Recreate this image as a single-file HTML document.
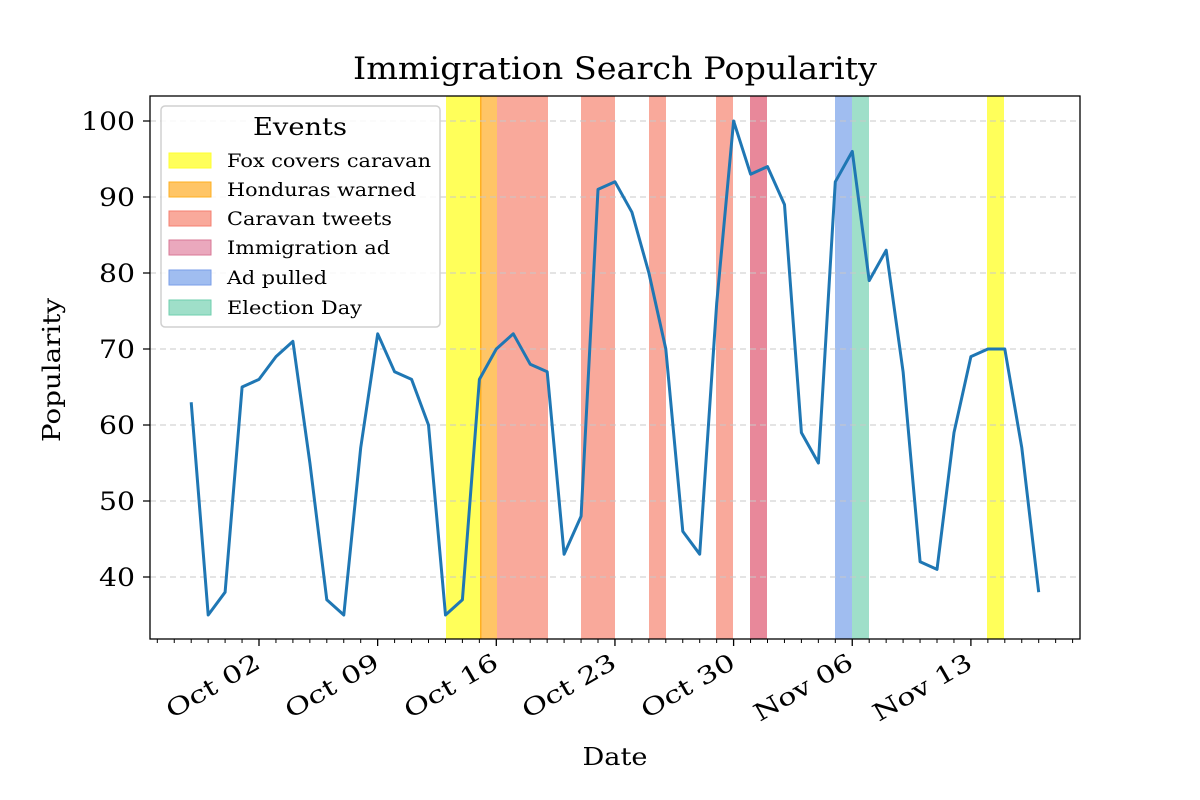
<!DOCTYPE html>
<html><head><meta charset="utf-8"><style>
html,body{margin:0;padding:0;background:#fff;}
svg{display:block;font-family:"DejaVu Serif","Liberation Serif",serif;}
</style></head><body>
<svg width="1200" height="800" xmlns="http://www.w3.org/2000/svg">
<rect width="1200" height="800" fill="#fff"/>
<text x="615" y="79" font-size="31" text-anchor="middle" textLength="524" lengthAdjust="spacingAndGlyphs">Immigration Search Popularity</text>
<g>
<rect x="446" y="96" width="34" height="543" fill="#ffff5a"/>
<rect x="480" y="96" width="17" height="543" fill="#ffc566"/>
<rect x="480" y="96" width="1.5" height="543" fill="#ffb020"/>
<rect x="497" y="96" width="51" height="543" fill="#f9a99b"/>
<rect x="581" y="96" width="34" height="543" fill="#f9a99b"/>
<rect x="649" y="96" width="17" height="543" fill="#f9a99b"/>
<rect x="716" y="96" width="17" height="543" fill="#f9a99b"/>
<rect x="750" y="96" width="17" height="543" fill="#e8889a"/>
<rect x="835" y="96" width="17" height="543" fill="#a0bdf0"/>
<rect x="852" y="96" width="17" height="543" fill="#9fdfc9"/>
<rect x="987" y="96" width="17" height="543" fill="#ffff5a"/>
</g>
<g stroke="#c8c8c8" stroke-width="1" stroke-dasharray="6,4">
<line x1="150" x2="1080" y1="121" y2="121"/>
<line x1="150" x2="1080" y1="197" y2="197"/>
<line x1="150" x2="1080" y1="273" y2="273"/>
<line x1="150" x2="1080" y1="349" y2="349"/>
<line x1="150" x2="1080" y1="425" y2="425"/>
<line x1="150" x2="1080" y1="501" y2="501"/>
<line x1="150" x2="1080" y1="577" y2="577"/>
</g>
<polyline fill="none" stroke="#1f77b4" stroke-width="3" stroke-linejoin="round" points="191.2,402.2 208.2,615 225.1,592.2 242.1,387 259,379.4 276,356.6 292.9,341.4 309.9,463 326.8,599.8 343.8,615 360.7,447.8 377.7,333.8 394.6,371.8 411.6,379.4 428.5,425 445.5,615 462.4,599.8 479.4,379.4 496.3,349 513.3,333.8 530.2,364.2 547.2,371.8 564.1,554.2 581.1,516.2 598,189.4 615,181.8 631.9,212.2 648.9,273 665.8,349 682.8,531.4 699.7,554.2 716.7,303.4 733.6,121 750.6,174.2 767.5,166.6 784.5,204.6 801.4,432.6 818.4,463 835.3,181.8 852.3,151.4 869.2,280.6 886.2,250.2 903.1,371.8 920.1,561.8 937,569.4 954,432.6 970.9,356.6 987.9,349 1004.8,349 1021.8,447.8 1038.7,592.2"/>
<rect x="150" y="96" width="930" height="543" fill="none" stroke="#000" stroke-width="1.3"/>
<path stroke="#000" stroke-width="1" fill="none" d="M157.3 639v4M174.25 639v4M191.2 639v4M208.15 639v4M225.1 639v4M242.05 639v4M275.95 639v4M292.9 639v4M309.85 639v4M326.8 639v4M343.75 639v4M360.7 639v4M394.6 639v4M411.55 639v4M428.5 639v4M445.45 639v4M462.4 639v4M479.35 639v4M513.25 639v4M530.2 639v4M547.15 639v4M564.1 639v4M581.05 639v4M598 639v4M631.9 639v4M648.85 639v4M665.8 639v4M682.75 639v4M699.7 639v4M716.65 639v4M750.55 639v4M767.5 639v4M784.45 639v4M801.4 639v4M818.35 639v4M835.3 639v4M869.2 639v4M886.15 639v4M903.1 639v4M920.05 639v4M937 639v4M953.95 639v4M987.85 639v4M1004.8 639v4M1021.75 639v4M1038.7 639v4M1055.65 639v4M1072.6 639v4"/>
<path stroke="#000" stroke-width="1.3" fill="none" d="M259 639v7M377.65 639v7M496.3 639v7M614.95 639v7M733.6 639v7M852.25 639v7M970.9 639v7M143 121h7M143 197h7M143 273h7M143 349h7M143 425h7M143 501h7M143 577h7"/>
<g font-size="25" text-anchor="end">
<text x="135" y="130" textLength="54" lengthAdjust="spacingAndGlyphs">100</text>
<text x="135" y="206" textLength="36" lengthAdjust="spacingAndGlyphs">90</text>
<text x="135" y="282" textLength="36" lengthAdjust="spacingAndGlyphs">80</text>
<text x="135" y="358" textLength="36" lengthAdjust="spacingAndGlyphs">70</text>
<text x="135" y="434" textLength="36" lengthAdjust="spacingAndGlyphs">60</text>
<text x="135" y="510" textLength="36" lengthAdjust="spacingAndGlyphs">50</text>
<text x="135" y="586" textLength="36" lengthAdjust="spacingAndGlyphs">40</text>
</g>
<g font-size="24" text-anchor="end">
<text transform="translate(262,667) rotate(-30)" textLength="104" lengthAdjust="spacingAndGlyphs">Oct 02</text>
<text transform="translate(381,667) rotate(-30)" textLength="104" lengthAdjust="spacingAndGlyphs">Oct 09</text>
<text transform="translate(500,667) rotate(-30)" textLength="104" lengthAdjust="spacingAndGlyphs">Oct 16</text>
<text transform="translate(618,667) rotate(-30)" textLength="104" lengthAdjust="spacingAndGlyphs">Oct 23</text>
<text transform="translate(737,667) rotate(-30)" textLength="104" lengthAdjust="spacingAndGlyphs">Oct 30</text>
<text transform="translate(855,667) rotate(-30)" textLength="110" lengthAdjust="spacingAndGlyphs">Nov 06</text>
<text transform="translate(974,667) rotate(-30)" textLength="110" lengthAdjust="spacingAndGlyphs">Nov 13</text>
</g>
<text x="615" y="765" font-size="24" text-anchor="middle" textLength="65" lengthAdjust="spacingAndGlyphs">Date</text>
<text transform="translate(60,370) rotate(-90)" font-size="24" text-anchor="middle" textLength="144" lengthAdjust="spacingAndGlyphs">Popularity</text>
<rect x="161" y="106" width="279" height="221" rx="4" fill="#fff" fill-opacity="0.85" stroke="#d0d0d0" stroke-width="1.5"/>
<text x="300" y="135" font-size="24" text-anchor="middle" textLength="94" lengthAdjust="spacingAndGlyphs">Events</text>
<g font-size="19">
<rect x="169" y="153" width="42" height="15" fill="#ffff5a" stroke="#ffff30"/><text x="227" y="167" textLength="204" lengthAdjust="spacingAndGlyphs">Fox covers caravan</text>
<rect x="169" y="182" width="42" height="15" fill="#ffc566" stroke="#ffb020"/><text x="227" y="196" textLength="189" lengthAdjust="spacingAndGlyphs">Honduras warned</text>
<rect x="169" y="211" width="42" height="15" fill="#f9a99b" stroke="#f58070"/><text x="227" y="225" textLength="165" lengthAdjust="spacingAndGlyphs">Caravan tweets</text>
<rect x="169" y="240" width="42" height="15" fill="#eaa8bd" stroke="#d87896"/><text x="227" y="254" textLength="163" lengthAdjust="spacingAndGlyphs">Immigration ad</text>
<rect x="169" y="270" width="42" height="15" fill="#a0bdf0" stroke="#7a9ee8"/><text x="227" y="284" textLength="100" lengthAdjust="spacingAndGlyphs">Ad pulled</text>
<rect x="169" y="300" width="42" height="15" fill="#9fdfc9" stroke="#6fcfae"/><text x="227" y="314" textLength="135" lengthAdjust="spacingAndGlyphs">Election Day</text>
</g>
</svg>
</body></html>
